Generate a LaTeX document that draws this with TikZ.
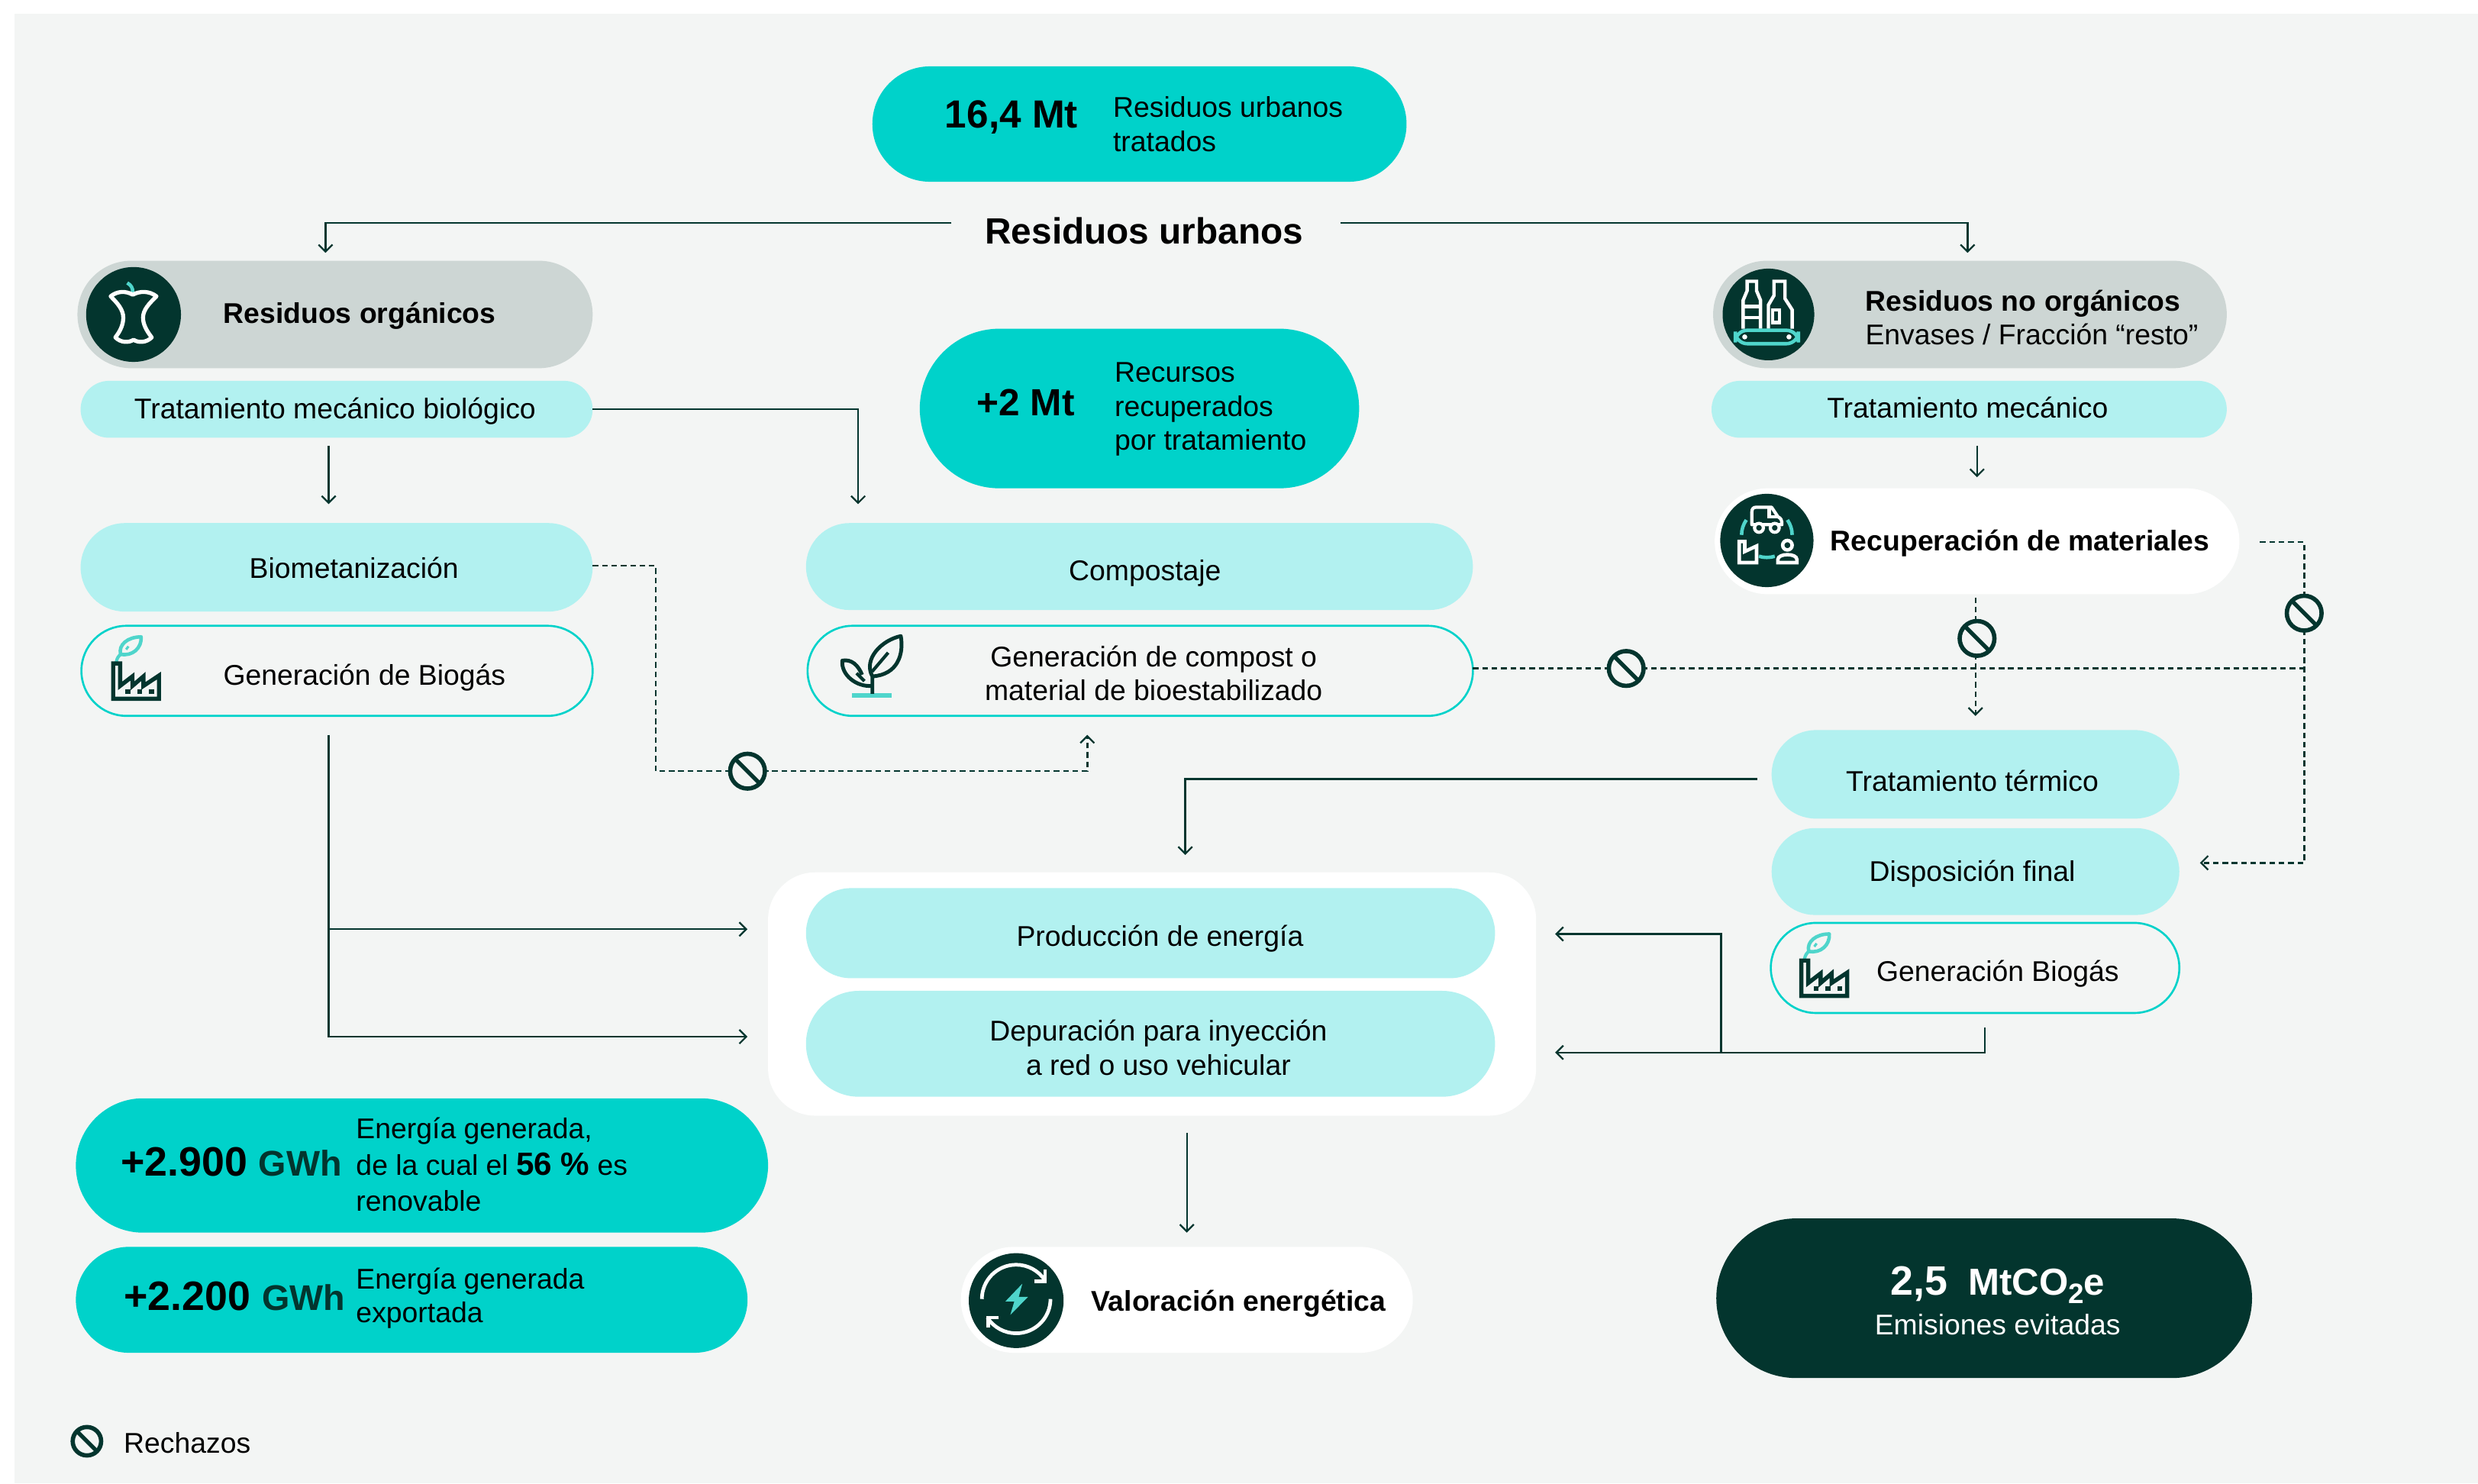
\documentclass[tikz,border=0pt]{standalone}
\usepackage{fontspec}
\setmainfont{Liberation Sans}
\usetikzlibrary{shapes.misc,arrows.meta,calc}
\definecolor{mTeal}{HTML}{00D2CA}
\definecolor{mLight}{HTML}{B2F1F0}
\definecolor{mGrey}{HTML}{CDD6D4}
\definecolor{mDark}{HTML}{03352E}
\definecolor{mBg}{HTML}{F3F5F4}
\definecolor{mLeaf}{HTML}{4FD5CB}
\newcommand{\fsN}{\fontsize{10.63}{12.65}\selectfont}
\newcommand{\fsB}{\fontsize{10.63}{12.65}\selectfont\bfseries}
\newcommand{\fsBig}{\fontsize{14}{16}\selectfont\bfseries}
\newcommand{\fsNum}{\fontsize{15.3}{16}\selectfont\bfseries}
\newcommand{\fsUnit}{\fontsize{13.3}{16}\selectfont\bfseries\color{mDark}}
\newcommand{\pill}[6]{\node[#6,minimum width={(#4-#2)*0.0207cm},minimum height={(#5-#3)*0.0207cm}] (#1) at ({(#2+#4)/2},{(#3+#5)/2}) {};}
\newcommand{\mfactory}[2]{\begin{scope}[shift={(#1,#2)}]
 \draw[mLeaf,line width=1.2pt] (2.8,0) .. controls (3.2,-3) and (4.6,-4) .. (5.5,-5);
 \draw[mLeaf,line width=1.3pt,line join=round] (5.5,-5) .. controls (4,-11) and (10,-16) .. (18.5,-16) .. controls (19,-9) and (13,-3.5) .. (5.5,-5);
 \draw[mLeaf,line width=.9pt] (9,-8) -- (10.5,-10);
 \draw[mDark,line width=1.55pt,miter limit=4] (.8,.8) -- (5.2,.8) -- (5.2,15) -- (13,9) -- (13,15) -- (20,9) -- (20,15) -- (29.8,8.5) -- (29.8,23.2) -- (.8,23.2) -- cycle;
 \foreach \wx in {8.5,16,23.5} {\fill[mDark] (\wx,17) rectangle ++(3.2,3.2);}
\end{scope}}
\tikzset{
 pillbase/.style={rounded rectangle,inner sep=0pt,outer sep=0pt},
 pteal/.style={pillbase,fill=mTeal},
 plight/.style={pillbase,fill=mLight},
 pgrey/.style={pillbase,fill=mGrey},
 pwhite/.style={pillbase,fill=white},
 pdark/.style={pillbase,fill=mDark},
 poutline/.style={pillbase,draw=mTeal,line width=.75pt},
 txtl/.style={inner sep=0pt,anchor=west,align=left,font=\fsN,text=black},
 txtc/.style={inner sep=0pt,anchor=center,align=center,font=\fsN,text=black},
 boldl/.style={txtl,font=\fsB},
 iconbg/.style={circle,fill=mDark,inner sep=0pt,outer sep=0pt,minimum size=#1*0.0207cm},
 solidlink/.style={draw=mDark,line width=.65pt},
 dashlink/.style={draw=mDark,line width=.7pt,dash pattern=on 2.1pt off 1.4pt},
 tip/.style={-{Straight Barb[length=2.6pt,width=5.2pt,line width=.65pt]}},
 stopsign/.style={circle,draw=mDark,fill=mBg,line width=1.6pt,inner sep=0pt,outer sep=0pt,minimum size=#1*0.0207cm,
   path picture={\draw[mDark,line width=1.5pt] ([shift={(.2,.2)}]path picture bounding box.north west) -- ([shift={(-.2,-.2)}]path picture bounding box.south east);}},
}
\begin{document}
\begin{tikzpicture}[x=0.0207cm,y=-0.0207cm]
\useasboundingbox (0,0) rectangle (1568,938.6);
\fill[white] (0,0) rectangle (1568,938.6);
\fill[mBg] (9.2,8.8) rectangle (1568,938.6);

% ---- pills
\pill{top}{552}{42}{890}{115}{pteal}
\node[txtc,font=\fontsize{14.6}{16}\selectfont\bfseries] (topv) at (640,74) {16,4 Mt};
\node[txtl] (topt) at (704,78.5) {Residuos urbanos\\tratados};
\node[txtc,font=\fontsize{13.6}{16}\selectfont\bfseries] (ru) at (724,146) {Residuos urbanos};

\pill{org}{49}{165}{375}{233}{pgrey}
\node[iconbg=60] (orgi) at (84.5,199) {};
\node[boldl] (orgt) at (141,200) {Residuos orgánicos};
\pill{tmb}{51}{241}{375}{277}{plight}
\node[txtc] (tmbt) at (212,260) {Tratamiento mecánico biológico};
\pill{mt2}{582}{208}{860}{309}{pteal}
\node[txtc,font=\fontsize{14.1}{16}\selectfont\bfseries] (mt2v) at (649,255) {+2 Mt};
\node[txtl] (mt2t) at (705,259) {Recursos\\recuperados\\por tratamiento};
\pill{bio}{51}{331}{375}{387}{plight}
\node[txtc] (biot) at (224,359.5) {Biometanización};
\pill{gb1}{51.5}{396}{375}{453}{poutline}
\node[txtl] (gb1t) at (141,429) {Generación de Biogás};
\pill{com}{510}{331}{932}{386}{plight}
\node[txtc] (comt) at (724.5,362.5) {Compostaje};
\pill{gc}{511}{396}{932}{453}{poutline}
\node[txtc] (gct) at (730,426) {Generación de compost o\\material de bioestabilizado};
\pill{nor}{1084}{165}{1409}{233}{pgrey}
\node[iconbg=58] (nori) at (1119,199) {};
\node[txtl] (nort) at (1180,201) {\textbf{Residuos no orgánicos}\\Envases / Fracción “resto”};
\pill{tm}{1083}{241}{1409}{277}{plight}
\node[txtc] (tmt) at (1245,258) {Tratamiento mecánico};
\pill{rec}{1085}{309}{1417}{376}{pwhite}
\node[iconbg=59] (reci) at (1118,342) {};
\node[boldl] (rect) at (1158,344) {Recuperación de materiales};
\pill{tt}{1121}{462}{1379}{518}{plight}
\node[txtc] (ttt) at (1248,494) {Tratamiento térmico};
\pill{df}{1121}{524}{1379}{579}{plight}
\node[txtc] (dft) at (1248,553) {Disposición final};
\pill{gb2}{1120.5}{584}{1379}{641}{poutline}
\node[txtl] (gb2t) at (1187,616) {Generación Biogás};
\node[fill=white,rounded corners=.62cm,inner sep=0pt,outer sep=0pt,minimum width={486*0.0207cm},minimum height={154*0.0207cm}] (wbox) at (729,629) {};
\pill{pe}{510}{562}{946}{619}{plight}
\node[txtc] (pet) at (734,594) {Producción de energía};
\pill{dep}{510}{627}{946}{694}{plight}
\node[txtc] (dept) at (733,663) {Depuración para inyección\\a red o uso vehicular};
\pill{val}{608}{789}{894}{856}{pwhite}
\node[iconbg=60] (vali) at (643,823) {};
\node[boldl] (valt) at (690,825) {Valoración energética};
\pill{g29}{48}{695}{486}{780}{pteal}
\node[txtl,font=\fsNum] (g29v) at (76,735) {+2.900 {\fsUnit GWh}};
\node[txtl,font=\fontsize{10.63}{23\dimexpr 0.0207cm\relax}\selectfont] (g29t) at (225,737) {Energía generada,\\de la cual el {\fontsize{12}{12.65}\selectfont\bfseries 56 \%} es\\renovable};
\pill{g22}{48}{789}{473}{856}{pteal}
\node[txtl,font=\fsNum] (g22v) at (78,820) {+2.200 {\fsUnit GWh}};
\node[txtl] (g22t) at (225,821.5) {Energía generada\\exportada};
\pill{co2}{1086}{771}{1425}{872}{pdark}
\node[txtc,text=white,font=\fsBig] (co2v) at (1264,813) {{\fsNum 2,5}\ \ MtCO\raisebox{-.4ex}{\fontsize{10.5}{11}\selectfont 2}e};
\node[txtc,text=white] (co2t) at (1264,838) {Emisiones evitadas};
\node[txtl] (legt) at (78,913) {Rechazos};

% ---- connector ends
\coordinate (ruL) at (602,141); \coordinate (ruR) at (848,141);
\coordinate (orgIn) at (206,160); \coordinate (norIn) at (1245,160);
\coordinate (tmbS) at (208,282); \coordinate (bioIn) at (208,319);
\coordinate (comIn) at (543,319);
\coordinate (tmS) at (1251,282); \coordinate (recIn) at (1251,302);
\coordinate (biogasS) at (208,465); \coordinate (biogasK) at (208,656);
\coordinate (bioBr) at (208,588);
\coordinate (peInL) at (473,588); \coordinate (depInL) at (473,656);
\coordinate (ttW) at (1112,493); \coordinate (wbIn) at (750,541);
\coordinate (gb2S) at (1256,650); \coordinate (gb2K) at (1256,666);
\coordinate (depInR) at (984,666); \coordinate (peInR) at (984,591);
\coordinate (rBr) at (1089,666);
\coordinate (wbS) at (751,717); \coordinate (valIn) at (751,780);
\coordinate (bioE) at (375,358); \coordinate (d1a) at (415,358); \coordinate (d1b) at (415,488);
\coordinate (d1c) at (688,488); \coordinate (gcIn) at (688,465);
\coordinate (gcE) at (932,423); \coordinate (jn) at (1458,423);
\coordinate (recE) at (1430,343); \coordinate (d2a) at (1458,343); \coordinate (d2b) at (1458,546);
\coordinate (dfIn) at (1392,546);
\coordinate (recS) at (1250,378); \coordinate (ttIn) at (1250,453);

% ---- solid connectors
\draw[solidlink,tip] (ruL) -| (orgIn);
\draw[solidlink,tip] (ruR) -| (norIn);
\draw[solidlink,tip] (tmbS) -- (bioIn);
\draw[solidlink,tip] (tmb.east) -| (comIn);
\draw[solidlink,tip] (tmS) -- (recIn);
\draw[solidlink,tip] (biogasS) |- (depInL);
\draw[solidlink,tip] (bioBr) -- (peInL);
\draw[solidlink,tip] (ttW) -| (wbIn);
\draw[solidlink,tip] (gb2S) |- (depInR);
\draw[solidlink,tip] (rBr) |- (peInR);
\draw[solidlink,tip] (wbS) -- (valIn);
% ---- dashed connectors
\draw[dashlink,tip] (bioE) -- (d1a) -- (d1b) -- (d1c) -- (gcIn);
\draw[dashlink] (gcE) -- (jn);
\draw[dashlink,tip] (recE) -- (d2a) -- (d2b) -- (dfIn);
\draw[dashlink,tip] (recS) -- (ttIn);
% ---- rejection signs
\node[stopsign=22] (s1) at (473,488) {};
\node[stopsign=22] (s2) at (1029,423) {};
\node[stopsign=22] (s3) at (1251,404) {};
\node[stopsign=22] (s4) at (1458,388) {};
\node[stopsign=18] (s5) at (55,912) {};

% ---- icons
\mfactory{70.8}{419}
\mfactory{1139}{607}
% apple core
\begin{scope}[shift={(84.5,199)}]
 \draw[mLeaf,line width=1.3pt] (-.5,-14) .. controls (-.5,-17) and (-1.5,-18.5) .. (-4,-20);
 \draw[white,line width=1.5pt,line join=round] (-14.5,-11.5) .. controls (-10,-15) and (-5,-15) .. (-.5,-12.5) .. controls (4,-15) and (10,-15) .. (14.5,-11.5)
   .. controls (10,-7) and (6,-3) .. (6,2) .. controls (6,6) and (8,10) .. (11.5,14.5) .. controls (8,18) and (3,18) .. (0,16) .. controls (-3,18) and (-8,18) .. (-11.5,14.5)
   .. controls (-8,10) and (-6.5,6) .. (-6.5,2) .. controls (-6.5,-3) and (-10,-7) .. (-14.5,-11.5) -- cycle;
\end{scope}
% bottles
\begin{scope}[shift={(1119,199)}]
 \draw[white,line width=1.25pt] (-16,9) -- (-16,-9) -- (-13.5,-15) -- (-13.5,-21) -- (-7.5,-21) -- (-7.5,-15) -- (-5,-9) -- (-5,9);
 \draw[white,line width=1.25pt] (-16,-5) -- (-5,-5) (-16,2) -- (-5,2);
 \draw[white,line width=1.25pt] (0,9) -- (0,-6) -- (3.5,-12) -- (3.5,-21) -- (10.5,-21) -- (10.5,-10) -- (15,-3) -- (15,9);
 \draw[white,line width=1.25pt] (2.6,-3) rectangle (7,5);
 \draw[mLeaf,line width=1.3pt,rounded corners=4.5pt] (-21,10) rectangle (19,18.5);
 \fill[white] (-15,14.2) circle (1.6) (13,14.2) circle (1.6);
\end{scope}
% recovery
\begin{scope}[shift={(1118,342)}]
 \draw[white,line width=1.2pt,line join=round] (-9.5,-10) -- (-9.5,-18) .. controls (-9.5,-20) and (-8.5,-21) .. (-7,-21) -- (3,-21) -- (7,-15) .. controls (9,-14) and (9.5,-13) .. (9.5,-10) -- cycle;
 \draw[white,line width=1.2pt] (1.5,-21) -- (1.5,-15) -- (7,-15);
 \draw[white,line width=1.2pt,fill=mDark] (-5,-8) circle (2.8) (5,-8) circle (2.8);
 \draw[white,line width=1.3pt] (-17.5,14) -- (-17.5,.7) -- (-14,.7) -- (-14,7) -- (-6.5,3.5) -- (-6.5,14) -- cycle;
 \draw[white,line width=1.3pt] (13,3) circle (3);
 \draw[white,line width=1.3pt] (7,14) -- (7,12) .. controls (7,8) and (19,8) .. (19,12) -- (19,14) -- cycle;
 \draw[mLeaf,line width=1.3pt] (-16,-3.5) .. controls (-16,-7) and (-15,-10) .. (-13,-13);
 \draw[mLeaf,line width=1.3pt] (16,-3.5) .. controls (16,-7) and (15,-10) .. (13,-13);
 \draw[mLeaf,line width=1.3pt] (-5,10) .. controls (-2,11) and (2,11) .. (5,10);
\end{scope}
% energy
\begin{scope}[shift={(643,822)}]
 \draw[white,line width=1.35pt] (-21.7,0) arc[start angle=180,end angle=327,radius=21.7];
 \draw[white,line width=1.35pt] (21.7,0) arc[start angle=0,end angle=147,radius=21.7];
 \draw[white,line width=1.35pt] (11.4,-11.3) -- (18.3,-11.3) -- (18.3,-18.5);
 \draw[white,line width=1.35pt] (-11,11.7) -- (-17.7,11.7) -- (-17.7,18.2);
 \fill[mLeaf] (3.9,-9.7) -- (-6.9,1.6) -- (-1.2,1.6) -- (-3.7,10) -- (7.5,-1.3) -- (1.6,-1.3) -- cycle;
\end{scope}
% sprout
\begin{scope}[shift={(552,439)}]
 \fill[mLeaf] (-13,-.2) rectangle (12,2.6);
 \draw[mDark,line width=1.4pt,line join=round] (0,0) -- (0,-11) .. controls (-6,-22) and (6,-34) .. (18,-36.5) .. controls (20,-25) and (16,-12) .. (0,-11);
 \draw[mDark,line width=1.2pt] (-.2,-14) -- (10,-26);
 \draw[mDark,line width=1.4pt,line join=round] (0,-5) .. controls (-10,-4) and (-20,-12) .. (-19,-21) .. controls (-13,-22) and (-9,-18) .. (-6.5,-12);
 \draw[mDark,line width=1.2pt] (-10,-13) -- (-5,-8);
\end{scope}
\end{tikzpicture}
\end{document}
